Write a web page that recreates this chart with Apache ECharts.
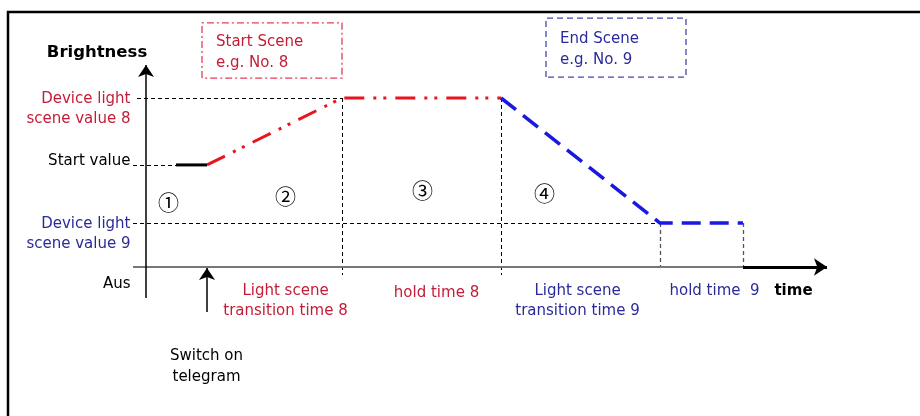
<!DOCTYPE html>
<html><head><meta charset="utf-8">
<script src="https://cdn.jsdelivr.net/npm/echarts@6/dist/echarts.min.js"></script>
<style>html,body{margin:0;padding:0;background:#fff}#c{width:920px;height:416px}</style>
</head><body><div id="c"></div>
<script>
// ---- data (time units / brightness units) ----
const timePoints = {start: 3.0, switchOn: 6.1, fadeEnd8: 19.6, holdEnd8: 35.5, fadeEnd9: 51.4, holdEnd9: 59.7, axisEnd: 68.1};
const levelNames = ['Aus', 'Device light scene value 9', 'Start value', 'Device light scene value 8'];
const levelValues = [0, 26.0, 60.4, 100];
const startSegment = [[3.0, 60.4], [6.1, 60.4]];
const scene8Values = [[6.1, 60.4], [19.6, 100], [35.5, 100]];
const scene9Values = [[35.5, 100], [51.4, 26.0], [59.7, 26.0]];
const phaseLabels = ['\u2460', '\u2461', '\u2462', '\u2463'];
const phaseLabelPos = [[2.3, 38.5], [14.0, 42.0], [27.7, 45.6], [39.9, 43.8]];
const timeLabels = ['Light scene\ntransition time 8', 'hold time 8', 'Light scene\ntransition time 9', 'hold time  9'];
const timeLabelPos = [[14.0, -19.5], [29.1, -14.8], [43.2, -19.5], [56.9, -13.6]];
const sceneBoxes = [[5.6, 19.6, 111.8, 144.4], [40.0, 54.0, 112.4, 147.3]];
const sceneBoxTexts = ['Start Scene\ne.g. No. 8', 'End Scene\ne.g. No. 9'];

// ---- styles ----
const RED = '#e8151f', REDTXT = '#c41c36', BLUE = '#1818e0', BLUETXT = '#2a2a9a';
const FONT = 'DejaVu Sans';
const PXX = 10, PXY = 1.69; // px per unit
const xMin = -146 / PXX, xMax = (920 - 146) / PXX;
const yMin = -(416 - 267) / PXY, yMax = 267 / PXY;

const T = timePoints;
const L = {aus: levelValues[0], s9: levelValues[1], st: levelValues[2], s8: levelValues[3]};
const yLow = -8 / PXY;      // guide overhang below axis
const xLeft = -13 / PXX;    // left overhang of axis / guides

function seg(a, b) { return {coords: [a, b]}; }

// annotation points
const ann = [];
function txt(x, y, text, opt) {
  ann.push({value: [x, y], label: Object.assign({show: true, formatter: text, position: [0, 0], offset: [0, 1.5], fontFamily: FONT, fontSize: 15, lineHeight: 20, align: 'center', verticalAlign: 'middle', color: '#000', opacity: 1, textBorderWidth: 0}, opt || {})});
}
const lblX = -15 / PXX;
txt(lblX, L.s8 - 10 / PXY, 'Device light\nscene value 8', {align: 'right', color: REDTXT});
txt(lblX, L.st + 5 / PXY, 'Start value', {align: 'right'});
txt(lblX, L.s9 - 10 / PXY, 'Device light\nscene value 9', {align: 'right', color: BLUETXT});
txt(lblX, L.aus - 16 / PXY, 'Aus', {align: 'right'});
txt(-4.85, 127.2, 'Brightness', {fontWeight: 'bold', fontSize: 16.5});
txt(64.8, -13.6, 'time', {fontWeight: 'bold', fontSize: 15});
txt(T.switchOn, -58.3, 'Switch on\ntelegram', {lineHeight: 21});
timeLabels.forEach((t, i) => txt(timeLabelPos[i][0], timeLabelPos[i][1], t, {color: i < 2 ? REDTXT : BLUETXT}));
phaseLabels.forEach((t, i) => txt(phaseLabelPos[i][0], phaseLabelPos[i][1], t, {fontFamily: 'Noto Sans CJK JP', fontSize: 21, color: '#000', offset: [0, 0.5]}));
sceneBoxTexts.forEach((t, i) => txt(sceneBoxes[i][0] + 1.45, (sceneBoxes[i][2] + sceneBoxes[i][3]) / 2 - 0.5, t, {align: 'left', lineHeight: 21, color: i === 0 ? REDTXT : BLUETXT}));

function box(b) { return {coords: [[b[0], b[2]], [b[0], b[3]], [b[1], b[3]], [b[1], b[2]], [b[0], b[2]]]}; }

const chart = echarts.init(document.getElementById('c'), null, {renderer: 'canvas'});
chart.setOption({
  animation: false,
  backgroundColor: '#fff',
  grid: {left: 0, right: 0, top: 0, bottom: 0, outerBoundsMode: 'none', containLabel: false},
  xAxis: {type: 'value', min: xMin, max: xMax, show: false},
  yAxis: {type: 'value', min: yMin, max: yMax, show: false},
  series: [
    // frame
    {type: 'lines', coordinateSystem: 'cartesian2d', polyline: true, silent: true, z: 1,
     lineStyle: {color: '#000', width: 2.5, opacity: 1},
     data: [{coords: [[-13.8, yMin], [-13.8, 150.9], [xMax, 150.9]]}]},
    // dashed guides (black)
    {type: 'lines', coordinateSystem: 'cartesian2d', silent: true, z: 2,
     lineStyle: {color: '#000', width: 1, type: [4, 3], opacity: 1},
     data: [
       seg([xLeft + 0.4, L.s8], [T.fadeEnd8, L.s8]),
       seg([xLeft, L.st], [T.start, L.st]),
       seg([xLeft, L.s9], [T.fadeEnd9, L.s9]),
       seg([T.fadeEnd8, L.s8], [T.fadeEnd8, yLow]),
       seg([T.holdEnd8, L.s8], [T.holdEnd8, yLow])
     ]},
    // dashed guides (grey)
    {type: 'lines', coordinateSystem: 'cartesian2d', silent: true, z: 2,
     lineStyle: {color: '#555', width: 1.3, type: [4, 3], opacity: 1},
     data: [seg([T.fadeEnd9, L.s9], [T.fadeEnd9, 0]), seg([T.holdEnd9, L.s9], [T.holdEnd9, 0])]},
    // x axis grey part
    {type: 'lines', coordinateSystem: 'cartesian2d', silent: true, z: 3,
     lineStyle: {color: '#777', width: 2, opacity: 1},
     data: [seg([xLeft, 0], [T.holdEnd9, 0])]},
    // x axis black part + arrow
    {type: 'lines', coordinateSystem: 'cartesian2d', silent: true, z: 3,
     symbol: ['none', 'arrow'], symbolSize: [10, 13],
     lineStyle: {color: '#000', width: 3, opacity: 1},
     data: [seg([T.holdEnd9, 0], [T.axisEnd, 0])]},
    // y axis + arrow
    {type: 'lines', coordinateSystem: 'cartesian2d', silent: true, z: 3,
     symbol: ['none', 'arrow'], symbolSize: [9, 12],
     lineStyle: {color: '#000', width: 1.5, opacity: 1},
     data: [seg([0, -31 / PXY], [0, (267 - 65) / PXY])]},
    // switch on arrow
    {type: 'lines', coordinateSystem: 'cartesian2d', silent: true, z: 3,
     symbol: ['none', 'arrow'], symbolSize: [9, 12],
     lineStyle: {color: '#000', width: 1.5, opacity: 1},
     data: [seg([T.switchOn, -45 / PXY], [T.switchOn, -1 / PXY])]},
    // scene boxes
    {type: 'lines', coordinateSystem: 'cartesian2d', polyline: true, silent: true, z: 2,
     lineStyle: {color: '#e04058', width: 1.3, type: [7, 3, 2, 3], opacity: 1},
     data: [box(sceneBoxes[0])]},
    {type: 'lines', coordinateSystem: 'cartesian2d', polyline: true, silent: true, z: 2,
     lineStyle: {color: '#4545b0', width: 1.3, type: [6, 4], opacity: 1},
     data: [box(sceneBoxes[1])]},
    // brightness profile
    {name: 'start', type: 'line', data: startSegment, symbol: 'none', z: 5,
     lineStyle: {color: '#000', width: 3}},
    {name: 'scene 8', type: 'line', data: scene8Values, symbol: 'none', z: 5,
     lineStyle: {color: RED, width: 3, type: [20, 9, 3, 7, 3, 9]}},
    {name: 'scene 9', type: 'line', data: scene9Values, symbol: 'none', z: 5,
     lineStyle: {color: BLUE, width: 3.5, type: [19, 9]}},
    // text annotations
    {type: 'scatter', data: ann, symbolSize: 1, itemStyle: {color: 'rgba(0,0,0,0)', opacity: 1}, silent: true, z: 6}
  ]
});
</script></body></html>
